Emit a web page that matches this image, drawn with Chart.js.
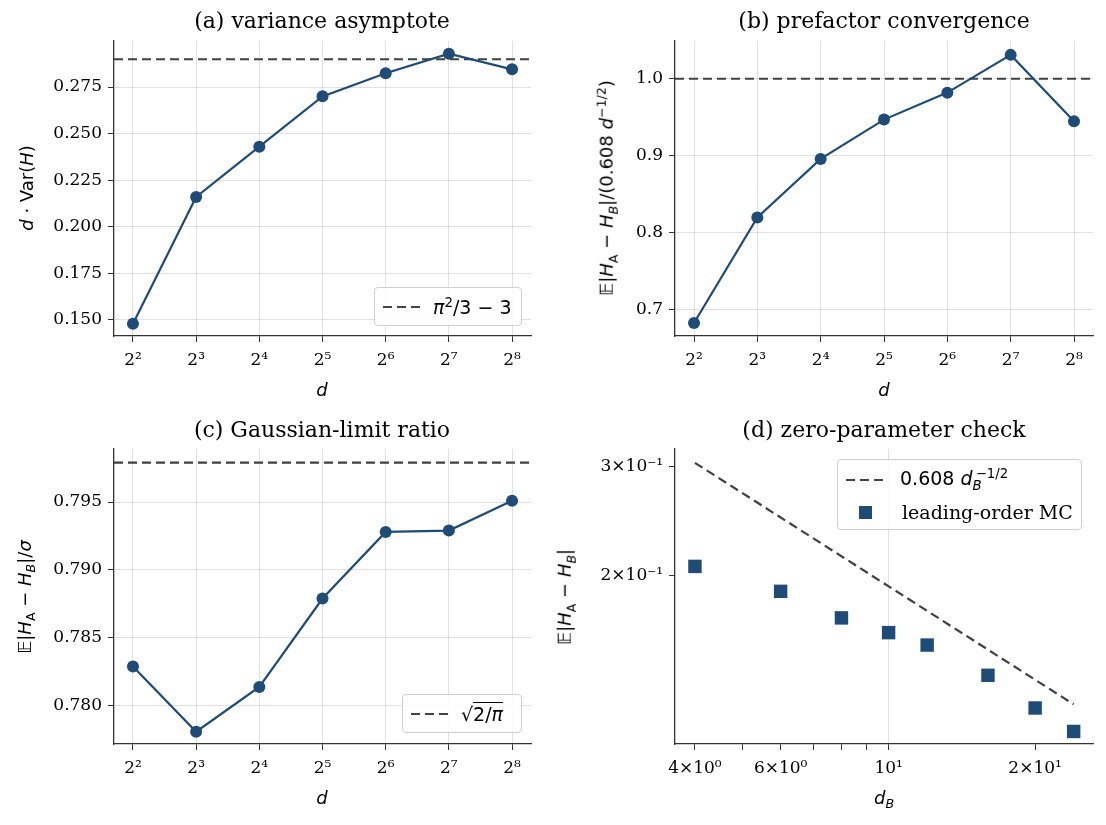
<!DOCTYPE html>
<html>
<head>
<meta charset="utf-8">
<script src="https://cdn.jsdelivr.net/npm/chart.js@4.4.1/dist/chart.umd.min.js"></script>
<style>
  body { margin: 0; background: #fff; width: 1106px; height: 825px; position: relative; overflow: hidden; }
  canvas { position: absolute; }
  .ttl { position: absolute; transform: translate(-50%, -50%); font-family: "DejaVu Serif"; font-size: 22px; white-space: nowrap; }
  .lab { position: absolute; font-family: "DejaVu Sans"; font-size: 18px; white-space: nowrap; }
  .ylab { transform: translate(-50%, -50%) rotate(-90deg); }
  .xlab { transform: translate(-50%, -50%); }
  .leg { position: absolute; box-sizing: border-box; border: 1px solid #d0d0d0; border-radius: 4px; background: rgba(255,255,255,0.85);
         font-family: "DejaVu Sans"; font-size: 19px; }
  .row { position: absolute; left: 0; right: 0; height: 30px; display: flex; align-items: center; white-space: nowrap; }
  .dash { width: 37px; height: 2px; margin: 0 13px 0 8px; background: repeating-linear-gradient(90deg, #444 0 9px, transparent 9px 14px); }
  .sq { width: 13px; height: 13px; background: #1f4b77; margin: 0 30px 0 21px; }
  i { font-style: italic; }
  sub, sup { font-size: 70%; }
</style>
</head>
<body>
<canvas id="ca" width="553" height="412" style="left:0;top:0"></canvas>
<canvas id="cb" width="553" height="412" style="left:553px;top:0"></canvas>
<canvas id="cc" width="553" height="412" style="left:0;top:408px"></canvas>
<canvas id="cd" width="553" height="412" style="left:553px;top:408px"></canvas>

<div class="ttl" style="left:322px;top:20px">(a) variance asymptote</div>
<div class="ttl" style="left:884px;top:20px">(b) prefactor convergence</div>
<div class="ttl" style="left:322px;top:429px">(c) Gaussian-limit ratio</div>
<div class="ttl" style="left:884px;top:429px">(d) zero-parameter check</div>

<div class="lab ylab" style="left:26px;top:188px"><i>d</i> · Var(<i>H</i>)</div>
<div class="lab ylab" style="left:607px;top:188px">𝔼|<i>H</i><sub>A</sub> − <i>H</i><sub><i>B</i></sub>|/(0.608 <i>d</i><sup>−1/2</sup>)</div>
<div class="lab ylab" style="left:26px;top:597px">𝔼|<i>H</i><sub>A</sub> − <i>H</i><sub><i>B</i></sub>|/<i>σ</i></div>
<div class="lab ylab" style="left:566px;top:597px">𝔼|<i>H</i><sub>A</sub> − <i>H</i><sub><i>B</i></sub>|</div>

<div class="lab xlab" style="left:322px;top:389px"><i>d</i></div>
<div class="lab xlab" style="left:884px;top:389px"><i>d</i></div>
<div class="lab xlab" style="left:322px;top:797px"><i>d</i></div>
<div class="lab xlab" style="left:884px;top:799px"><i>d</i><sub><i>B</i></sub></div>

<div class="leg" style="left:374px;top:287px;width:148px;height:39px">
  <div class="row" style="top:4px"><div class="dash"></div><span><i>π</i><sup>2</sup>/3 − 3</span></div>
</div>
<div class="leg" style="left:402px;top:694px;width:120px;height:39px">
  <div class="row" style="top:4px"><div class="dash"></div><span>√<span style="border-top:1px solid #000">2/<i>π</i></span></span></div>
</div>
<div class="leg" style="left:837px;top:459px;width:245px;height:71px">
  <div class="row" style="top:5px"><div class="dash"></div><span style="margin-left:4px">0.608 <i>d</i><sub><i>B</i></sub><sup style="margin-left:-6px">−1/2</sup></span></div>
  <div class="row" style="top:37px"><div class="sq"></div><span style="font-family:'DejaVu Serif'">leading-order MC</span></div>
</div>

<script>
// ----- data -----
const dExp = [2, 3, 4, 5, 6, 7, 8];                 // d = 2^n
const varAsym = [0.148, 0.216, 0.243, 0.270, 0.2824, 0.2929, 0.2845];
const prefRatio = [0.683, 0.820, 0.896, 0.947, 0.982, 1.031, 0.945];
const gaussRatio = [0.7829, 0.7781, 0.7814, 0.7879, 0.7928, 0.7929, 0.7951];
const varRef = 0.2899;    // pi^2/3 - 3
const prefRef = 1.0;
const gaussRef = 0.7979;  // sqrt(2/pi)

const dB = [4, 6, 8, 10, 12, 16, 20, 24];
const mcVals = [0.207, 0.1887, 0.171, 0.1619, 0.1546, 0.1382, 0.1224, 0.1122];
const fitX = [4, 24];
const fitY = [0.304, 0.1241];

const aTicks = [0.150, 0.175, 0.200, 0.225, 0.250, 0.275];
const bTicks = [0.7, 0.8, 0.9, 1.0];
const cTicks = [0.780, 0.785, 0.790, 0.795];
const dXTicks = [4, 5, 6, 7, 8, 9, 10, 20];
const dXLabels = { 4: '4×10⁰', 6: '6×10⁰', 10: '10¹', 20: '2×10¹' };
const dYTicks = [0.2, 0.3];
const dYLabels = { 0.2: '2×10⁻¹', 0.3: '3×10⁻¹' };

// ----- styling -----
const blue = '#1f4b77';
const refGray = '#404040';
const gridCol = 'rgba(176,176,176,0.38)';
const tickFont = { family: 'DejaVu Serif', size: 17 };
const sup = { '0': '⁰', '1': '¹', '2': '²', '3': '³', '4': '⁴', '5': '⁵', '6': '⁶', '7': '⁷', '8': '⁸' };
const xMin = 1.7, xMax = 8.3;

function axisBase() {
  return {
    ticks: { font: tickFont, color: '#000', padding: 6, maxRotation: 0, autoSkip: false },
    grid: { color: gridCol, tickColor: '#333', tickLength: 6, lineWidth: 1 },
    border: { color: '#333', width: 1.3 }
  };
}

function makeLinePanel(id, vals, ref, yMin, yMax, yTicks, digits, yWidth, padRight) {
  const x = axisBase(), y = axisBase();
  Object.assign(x, {
    type: 'linear', min: xMin, max: xMax,
    afterBuildTicks: s => { s.ticks = dExp.map(v => ({ value: v })); },
    afterFit: s => { s.height = 76; }
  });
  x.ticks.callback = v => '2' + sup[String(v)];
  x.ticks.padding = 8;
  Object.assign(y, {
    type: 'linear', min: yMin, max: yMax,
    afterBuildTicks: s => { s.ticks = yTicks.map(v => ({ value: v })); },
    afterFit: s => { s.width = yWidth; }
  });
  y.ticks.callback = v => Number(v).toFixed(digits);

  new Chart(document.getElementById(id), {
    type: 'line',
    data: {
      datasets: [
        {
          data: dExp.map((e, i) => ({ x: e, y: vals[i] })),
          borderColor: blue, backgroundColor: blue, borderWidth: 2.2,
          pointRadius: 6, pointHoverRadius: 6, pointBorderWidth: 0, tension: 0
        },
        {
          data: [{ x: xMin, y: ref }, { x: xMax, y: ref }],
          borderColor: refGray, borderWidth: 2.2, borderDash: [9, 5], pointRadius: 0
        }
      ]
    },
    options: {
      responsive: false, animation: false, devicePixelRatio: 1,
      layout: { padding: { top: 41, right: padRight, left: 0, bottom: 0 } },
      plugins: { legend: { display: false }, tooltip: { enabled: false } },
      scales: { x, y }
    }
  });
}

makeLinePanel('ca', varAsym, varRef, 0.1414, 0.2997, aTicks, 3, 114, 22);
makeLinePanel('cb', prefRatio, prefRef, 0.6662, 1.049, bTicks, 1, 122, 13);
makeLinePanel('cc', gaussRatio, gaussRef, 0.7772, 0.7989, cTicks, 3, 114, 22);

// ----- panel (d): log-log -----
const dx = axisBase(), dy = axisBase();
Object.assign(dx, {
  type: 'logarithmic', min: 3.64, max: 26.3,
  afterBuildTicks: s => { s.ticks = dXTicks.map(v => ({ value: v })); },
  afterFit: s => { s.height = 76; }
});
dx.ticks.callback = v => dXLabels[v] || '';
dx.ticks.padding = 8;
dx.grid.color = ctx => (ctx.tick && ctx.tick.value === 10) ? gridCol : 'rgba(0,0,0,0)';
Object.assign(dy, {
  type: 'logarithmic', min: 0.1071, max: 0.320,
  afterBuildTicks: s => { s.ticks = dYTicks.map(v => ({ value: v })); },
  afterFit: s => { s.width = 122; }
});
dy.ticks.callback = v => dYLabels[v] || '';
dy.grid.color = 'rgba(0,0,0,0)';

new Chart(document.getElementById('cd'), {
  type: 'scatter',
  data: {
    datasets: [
      {
        data: dB.map((x, i) => ({ x, y: mcVals[i] })),
        pointStyle: 'rect', pointRadius: 9.5, pointHoverRadius: 9.5,
        backgroundColor: blue, borderWidth: 0
      },
      {
        data: fitX.map((x, i) => ({ x, y: fitY[i] })),
        showLine: true, borderColor: refGray, borderWidth: 2.2, borderDash: [9, 5], pointRadius: 0
      }
    ]
  },
  options: {
    responsive: false, animation: false, devicePixelRatio: 1,
    layout: { padding: { top: 41, right: 13, left: 0, bottom: 0 } },
    plugins: { legend: { display: false }, tooltip: { enabled: false } },
    scales: { x: dx, y: dy }
  }
});
</script>
</body>
</html>
